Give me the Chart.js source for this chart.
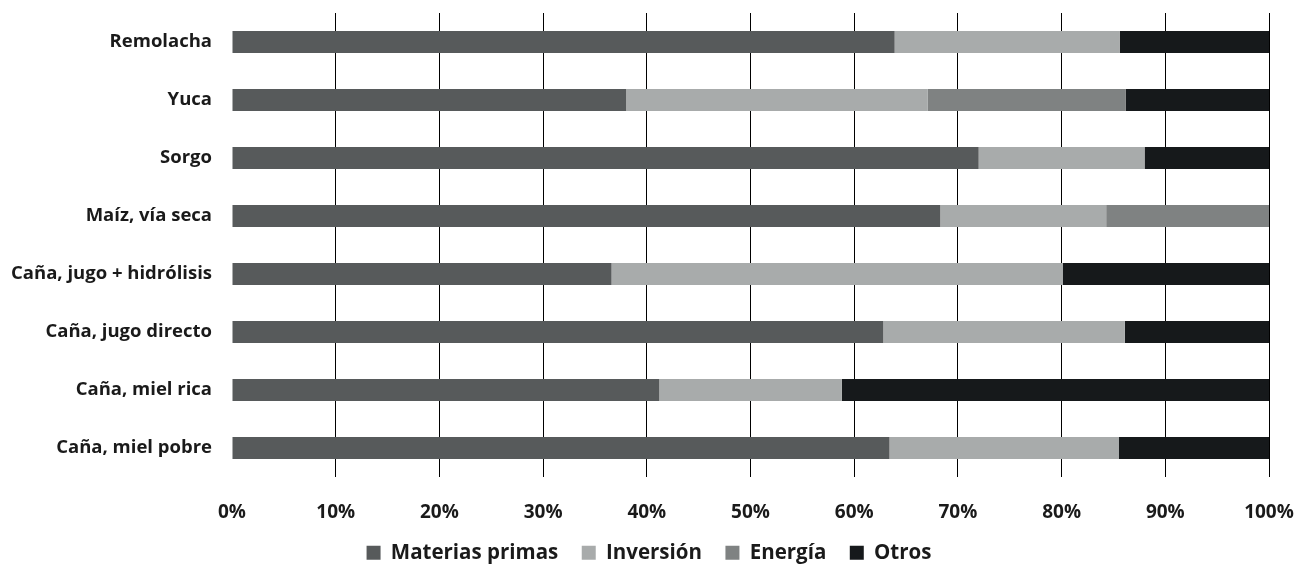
<!DOCTYPE html>
<html>
<head>
<meta charset="utf-8">
<script src="https://cdn.jsdelivr.net/npm/chart.js@4.4.1/dist/chart.umd.min.js"></script>
<style>
  html, body { margin: 0; padding: 0; background: #ffffff; }
  canvas { display: block; }
</style>
</head>
<body>
<canvas id="c" width="1298" height="567"></canvas>
<script>
// Cost structure of ethanol production by feedstock (share of total, %)
const categories = [
  'Remolacha',
  'Yuca',
  'Sorgo',
  'Maíz, vía seca',
  'Caña, jugo + hidrólisis',
  'Caña, jugo directo',
  'Caña, miel rica',
  'Caña, miel pobre'
];
const materiasPrimas = [63.9, 38.0, 72.0, 68.3, 36.6, 62.8, 41.2, 63.4];
const inversion      = [21.7, 29.1, 16.0, 16.0, 43.5, 23.3, 17.6, 22.1];
const energia        = [0,    19.1, 0,    15.7, 0,    0,    0,    0];
const otros          = [14.4, 13.8, 12.0, 0,    19.9, 13.9, 41.2, 14.5];
const tickLabels = ['0%', '10%', '20%', '30%', '40%', '50%', '60%', '70%', '80%', '90%', '100%'];

const FONT = '"Open Sans", Lato, sans-serif';
const TEXT = '#1a1a1a';

const ds = (label, data, color) => ({
  label, data,
  backgroundColor: color,
  borderWidth: 0,
  categoryPercentage: 1,
  barPercentage: 0.38
});

new Chart(document.getElementById('c'), {
  type: 'bar',
  data: {
    labels: categories,
    datasets: [
      ds('Materias primas', materiasPrimas, '#575a5b'),
      ds('Inversión', inversion, '#a8abab'),
      ds('Energía', energia, '#7f8282'),
      ds('Otros', otros, '#16191b')
    ]
  },
  options: {
    indexAxis: 'y',
    responsive: false,
    animation: false,
    layout: { padding: { top: 13, right: 0, left: 0, bottom: 0 } },
    plugins: {
      tooltip: { enabled: false },
      legend: {
        position: 'bottom',
        maxHeight: 48,
        labels: {
          boxWidth: 14,
          boxHeight: 14,
          padding: 23.5,
          color: TEXT,
          font: { family: FONT, size: 20.5, weight: 'bold' }
        }
      }
    },
    scales: {
      x: {
        stacked: true,
        min: 0,
        max: 100,
        afterBuildTicks: (axis) => {
          axis.ticks = tickLabels.map((_, i) => ({ value: i * 10 }));
        },
        afterFit: (scale) => {
          scale.height = 42;
          scale.paddingLeft = 0;
          scale.paddingRight = 29;
        },
        ticks: {
          padding: 26,
          maxRotation: 0,
          color: TEXT,
          font: { family: FONT, size: 19, weight: 'bold', lineHeight: 1 },
          callback: (v, i) => tickLabels[i]
        },
        grid: {
          color: (ctx) => ctx.index === 0 ? 'rgba(0,0,0,0)' : '#000000',
          lineWidth: 1,
          drawTicks: false
        },
        border: { display: false }
      },
      y: {
        stacked: true,
        afterFit: (scale) => {
          scale.width = 232;
          scale.paddingTop = 0;
          scale.paddingBottom = 0;
        },
        ticks: {
          padding: 20,
          color: TEXT,
          font: { family: FONT, size: 18.5, weight: 'bold' }
        },
        grid: { display: false, drawTicks: false },
        border: { display: false }
      }
    }
  }
});
</script>
</body>
</html>
